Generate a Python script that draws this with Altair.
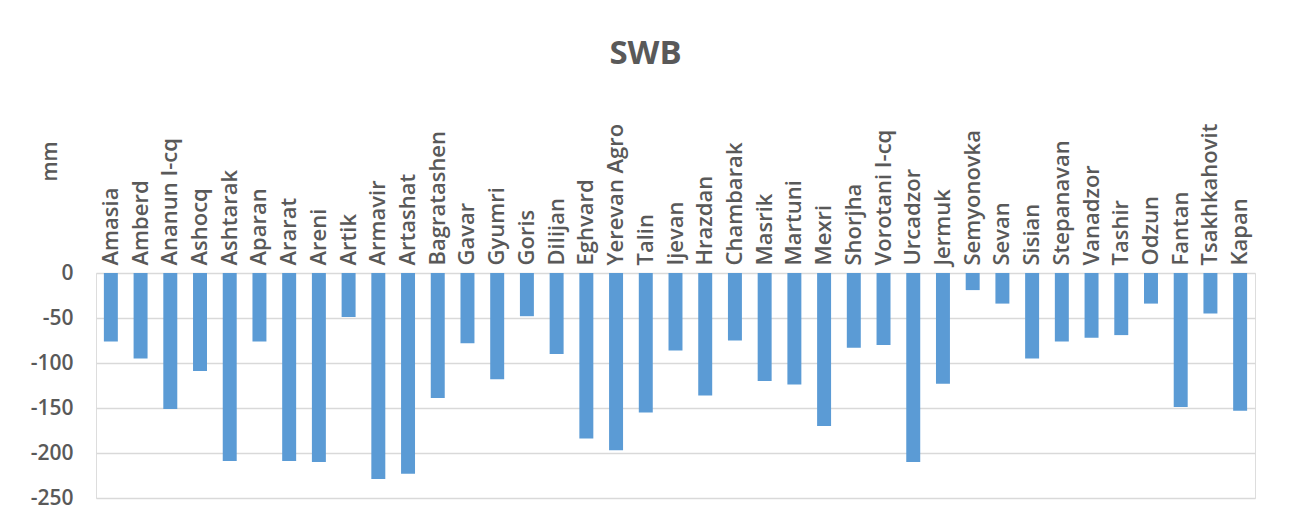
import altair as alt
import pandas as pd

stations = ["Amasia", "Amberd", "Ananun I-cq", "Ashocq", "Ashtarak", "Aparan", "Ararat",
            "Areni", "Artik", "Armavir", "Artashat", "Bagratashen", "Gavar", "Gyumri",
            "Goris", "Dilijan", "Eghvard", "Yerevan Agro", "Talin", "Ijevan", "Hrazdan",
            "Chambarak", "Masrik", "Martuni", "Mexri", "Shorjha", "Vorotani I-cq",
            "Urcadzor", "Jermuk", "Semyonovka", "Sevan", "Sisian", "Stepanavan",
            "Vanadzor", "Tashir", "Odzun", "Fantan", "Tsakhkahovit", "Kapan"]
swb = [-76, -95, -151, -109, -209, -76, -209, -210, -49, -229, -223, -139, -78, -118,
       -48, -90, -184, -197, -155, -86, -136, -75, -120, -124, -170, -83, -80,
       -210, -123, -19, -34, -95, -76, -72, -69, -34, -149, -45, -153]

df = pd.DataFrame({"station": stations, "swb": swb})

FONT = "Open Sans"
GREY = "#595959"

chart = alt.Chart(df).mark_bar(color="#5B9BD5").encode(
    x=alt.X("station:N", sort=stations,
            scale=alt.Scale(paddingInner=0.53, paddingOuter=0.265),
            axis=alt.Axis(orient="top", title=None, labelAngle=-90, ticks=False,
                          domain=False, grid=False, labelPadding=8,
                          labelFont=FONT, labelFontSize=22, labelFontWeight=600,
                          labelColor=GREY)),
    y=alt.Y("swb:Q", scale=alt.Scale(domain=[-250, 0], nice=False),
            axis=alt.Axis(values=[0, -50, -100, -150, -200, -250], title="mm",
                          labelExpr="'' + datum.value",
                          ticks=False, domain=False, labelPadding=23,
                          labelFont=FONT, labelFontSize=21, labelFontWeight=600,
                          labelColor=GREY,
                          gridColor="#D9D9D9", gridWidth=1.5,
                          titleFont=FONT, titleFontSize=21, titleColor=GREY,
                          titleFontWeight=600, titleAngle=-90,
                          titleX=-46, titleY=-112, titleBaseline="middle",
                          titleAlign="center")),
).properties(
    width=1159, height=225,
    title=alt.TitleParams("SWB", font=FONT, fontSize=33, fontWeight="bold",
                          color=GREY, anchor="middle", frame="group", dx=-30,
                          offset=52),
    autosize=alt.AutoSizeParams(type="none"),
    padding={"left": 88, "top": 265, "right": 29, "bottom": 15},
).configure_view(stroke=None).configure(background="white")

chart.save("out.html", embed_options={"renderer": "svg", "actions": False})
